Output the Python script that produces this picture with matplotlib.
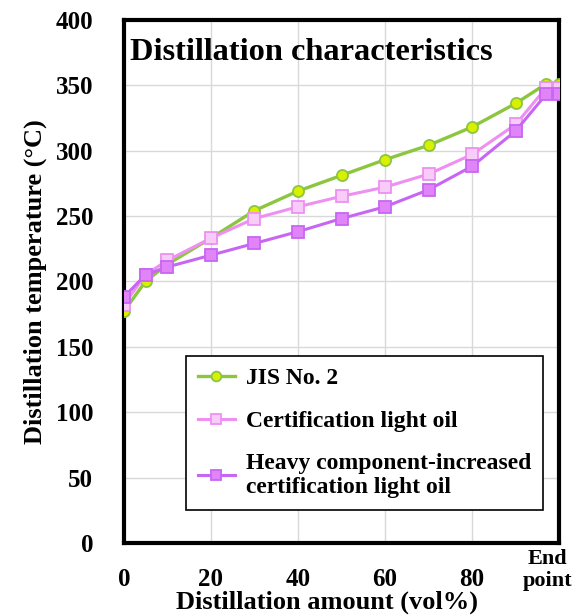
import numpy as np
import matplotlib.pyplot as plt
import matplotlib.transforms as mtransforms

plt.rcParams['font.family'] = ['Liberation Serif', 'DejaVu Serif']
plt.rcParams['font.weight'] = 'bold'

# distillation amount (vol%), last point = end point
amount = [0, 5, 10, 20, 30, 40, 50, 60, 70, 80, 90, 97, 100]
jis2 = [177, 200, 213, 233, 254, 269, 281, 293, 304, 318, 336, 351, 351]
cert = [182, 205, 216, 233, 248, 257, 265, 272, 282, 297, 320, 348, 348]
heavy = [188, 205, 211, 220, 229, 238, 248, 257, 270, 288, 315, 343, 343]

xticks = [0, 20, 40, 60, 80, 100]
xticklabels = ['0', '20', '40', '60', '80', 'End\npoint']
yticks = list(range(0, 401, 50))

fig = plt.figure(figsize=(5.73, 6.15), dpi=100)
ax = fig.add_axes([0.216, 0.117, 0.76, 0.851])

ax.plot(amount, jis2, color='#8cc63f', lw=2.4, marker='o', ms=8,
        mfc='#d9f000', mec='#8cc63f', mew=1.3, label='JIS No. 2', zorder=3)
ax.plot(amount, cert, color='#ee90f2', lw=2.2, marker='s', ms=8,
        mfc='#f8ccf8', mec='#ee90f2', mew=1.3, label='Certification light oil', zorder=4)
ax.plot(amount, heavy, color='#c866f4', lw=2.2, marker='s', ms=8,
        mfc='#e184f7', mec='#c866f4', mew=1.3,
        label='Heavy component-increased\ncertification light oil', zorder=5)

ax.set_xlim(0, 100)
ax.set_ylim(0, 400)
ax.set_xticks(xticks)
ax.set_xticklabels(xticklabels)
ax.set_yticks(yticks)
ax.tick_params(length=0, labelsize=18)
ax.tick_params(axis='y', pad=22)
ax.tick_params(axis='x', pad=18)
ax.grid(True, color='#d9d9d9', lw=1)
ax.set_axisbelow(True)
for s in ax.spines.values():
    s.set_linewidth(3)
    s.set_color('black')

lbl = ax.get_xticklabels()[-1]
lbl.set_fontsize(16)
lbl.set_linespacing(1.1)
lbl.set_transform(lbl.get_transform() + mtransforms.ScaledTranslation(-0.12, 0.19, fig.dpi_scale_trans))

ax.set_xlabel('Distillation amount (vol%)', fontsize=19, fontweight='bold')
ax.xaxis.set_label_coords(0.467, -0.09)
ax.set_ylabel('Distillation temperature (°C)', fontsize=19, fontweight='bold', labelpad=6)

ax.text(0.015, 0.965, 'Distillation characteristics', transform=ax.transAxes,
        fontsize=23.3, fontweight='bold', va='top', ha='left')

leg = ax.legend(loc='lower right', bbox_to_anchor=(0.963, 0.063), fontsize=17,
                frameon=True, fancybox=False, edgecolor='black', framealpha=1,
                handlelength=1.6, handletextpad=0.45, labelspacing=0.9,
                borderpad=0.5, borderaxespad=0)
leg.get_frame().set_linewidth(1.2)
for h in leg.legend_handles:
    h.set_markersize(7)

fig.savefig('out.png', dpi=100)
